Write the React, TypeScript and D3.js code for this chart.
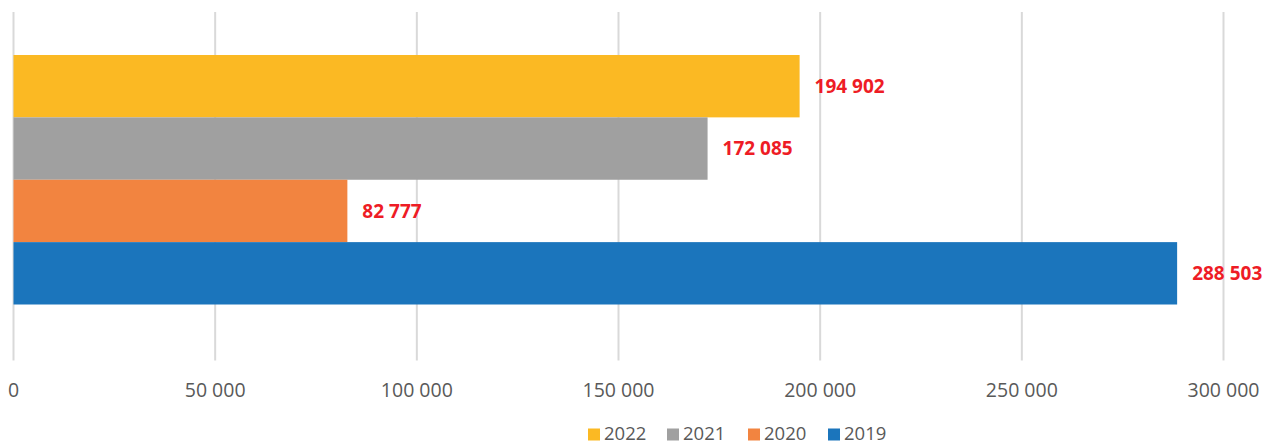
import React from "react";
import * as d3 from "d3";

const categories = ["2022", "2021", "2020", "2019"];
const values = [194902, 172085, 82777, 288503];
const colors = ["#FBB923", "#A0A0A0", "#F28440", "#1B75BC"];
const ticks = [0, 50000, 100000, 150000, 200000, 250000, 300000];

const W = 1262;
const H = 446;

const fmt = (v: number) => d3.format(",")(v).replace(/,/g, " ");

export default function App() {
  const x = d3.scaleLinear().domain([0, 300000]).range([13.5, 1223.5]);
  const y = d3.scaleBand<string>().domain(categories).range([55, 304.5]).padding(0);
  const font = "'Open Sans', sans-serif";
  const legendX = [588, 667, 748, 828];
  return (
    <svg width={W} height={H} style={{ position: "absolute", left: 0, top: 0 }}>
      <rect width={W} height={H} fill="#fff" />
      {ticks.map((t) => (
        <line key={t} x1={x(t)} x2={x(t)} y1={12} y2={360.5} stroke="#D9D9D9" strokeWidth={2} />
      ))}
      {categories.map((c, i) => (
        <rect key={c} x={x(0)} y={y(c)} width={x(values[i]) - x(0)} height={y.bandwidth()} fill={colors[i]} />
      ))}
      {categories.map((c, i) => (
        <text
          key={c}
          x={x(values[i]) + 15}
          y={(y(c) as number) + y.bandwidth() / 2}
          dy="0.36em"
          fill="#EE1C25"
          fontFamily={font}
          fontWeight="bold"
          fontSize={19}
        >
          {fmt(values[i])}
        </text>
      ))}
      {ticks.map((t) => (
        <text key={t} x={x(t)} y={396.5} textAnchor="middle" fill="#595959" fontFamily={font} fontSize={19.5}>
          {fmt(t)}
        </text>
      ))}
      {categories.map((c, i) => (
        <g key={c}>
          <rect x={legendX[i]} y={428.5} width={12} height={12} fill={colors[i]} />
          <text x={legendX[i] + 16} y={440} fill="#595959" fontFamily={font} fontSize={18.5}>
            {c}
          </text>
        </g>
      ))}
    </svg>
  );
}
